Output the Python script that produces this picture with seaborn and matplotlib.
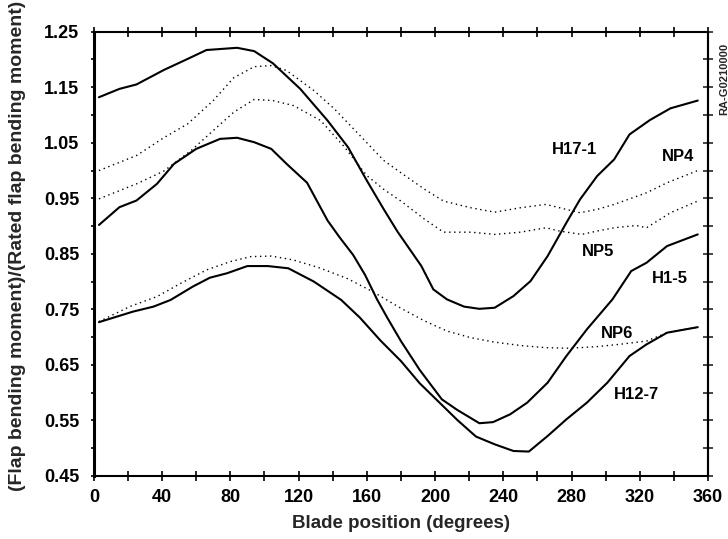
import matplotlib
matplotlib.use("Agg")
import matplotlib.pyplot as plt
import seaborn as sns
import pandas as pd

# ---------------- data ----------------
h17_x = [3, 15, 25, 41, 55, 66, 84, 94, 105, 121, 137, 149, 160, 170, 178, 192, 199, 207, 217, 226, 235, 246, 256, 266, 277, 285, 295, 305, 314, 326, 338, 354]
h17_y = [1.132, 1.147, 1.155, 1.181, 1.201, 1.217, 1.221, 1.215, 1.193, 1.147, 1.09, 1.042, 0.982, 0.93, 0.89, 0.828, 0.786, 0.768, 0.755, 0.751, 0.753, 0.774, 0.801, 0.846, 0.906, 0.948, 0.99, 1.02, 1.065, 1.091, 1.112, 1.126]

np4_x = [3, 25, 41, 55, 70, 82, 94, 104, 113, 129, 141, 156, 170, 180, 194, 205, 221, 235, 250, 265, 273, 285, 295, 305, 324, 336, 354]
np4_y = [1.00, 1.027, 1.059, 1.084, 1.126, 1.167, 1.187, 1.189, 1.18, 1.144, 1.111, 1.063, 1.018, 0.996, 0.966, 0.945, 0.933, 0.925, 0.933, 0.939, 0.933, 0.924, 0.93, 0.939, 0.96, 0.978, 1.0]

np5_x = [3, 25, 41, 57, 70, 82, 94, 105, 117, 133, 147, 160, 170, 180, 194, 205, 221, 235, 250, 265, 273, 286, 295, 305, 318, 324, 338, 354]
np5_y = [0.949, 0.976, 0.999, 1.036, 1.072, 1.105, 1.128, 1.126, 1.117, 1.09, 1.042, 0.991, 0.966, 0.945, 0.912, 0.889, 0.889, 0.885, 0.889, 0.897, 0.891, 0.885, 0.891, 0.897, 0.901, 0.897, 0.924, 0.945]

h15_x = [3, 15, 25, 37, 47, 60, 74, 84, 94, 104, 113, 125, 137, 144, 152, 159, 166, 172, 180, 191, 204, 213, 226, 234, 244, 254, 266, 277, 289, 304, 315, 324, 336, 354]
h15_y = [0.902, 0.934, 0.946, 0.976, 1.012, 1.039, 1.057, 1.059, 1.051, 1.039, 1.012, 0.978, 0.91, 0.88, 0.848, 0.812, 0.768, 0.735, 0.693, 0.641, 0.588, 0.569, 0.545, 0.547, 0.561, 0.582, 0.618, 0.666, 0.714, 0.768, 0.819, 0.834, 0.864, 0.885]

np6_x = [3, 21, 37, 51, 66, 80, 92, 104, 117, 133, 149, 164, 180, 194, 207, 221, 235, 250, 265, 279, 295, 308, 324, 336, 354]
np6_y = [0.728, 0.755, 0.773, 0.797, 0.821, 0.836, 0.845, 0.846, 0.839, 0.824, 0.805, 0.781, 0.752, 0.729, 0.711, 0.699, 0.691, 0.685, 0.681, 0.68, 0.683, 0.687, 0.693, 0.708, 0.718]

h127_x = [3, 23, 35, 45, 58, 68, 78, 90, 102, 114, 129, 145, 156, 168, 180, 191, 201, 213, 224, 235, 246, 255, 266, 277, 289, 301, 314, 324, 336, 354]
h127_y = [0.727, 0.746, 0.755, 0.767, 0.791, 0.807, 0.815, 0.828, 0.828, 0.824, 0.8, 0.767, 0.735, 0.694, 0.657, 0.617, 0.587, 0.551, 0.521, 0.507, 0.495, 0.494, 0.522, 0.552, 0.582, 0.618, 0.666, 0.687, 0.708, 0.718]

series_names = ["H17-1", "NP4", "NP5", "H1-5", "NP6", "H12-7"]
series_x = [h17_x, np4_x, np5_x, h15_x, np6_x, h127_x]
series_y = [h17_y, np4_y, np5_y, h15_y, np6_y, h127_y]
series_dotted = [False, True, True, False, True, False]

label_x = [281.6, 342.6, 295.7, 337.8, 306.5, 318.2]
label_y = [1.037, 1.025, 0.854, 0.806, 0.707, 0.596]

x_major = list(range(0, 361, 40))
x_minor = list(range(20, 361, 40))
y_major = [0.45, 0.55, 0.65, 0.75, 0.85, 0.95, 1.05, 1.15, 1.25]
y_minor = [0.50, 0.60, 0.70, 0.80, 0.90, 1.00, 1.10, 1.20]

x_label = "Blade position (degrees)"
y_label = "(Flap bending moment)/(Rated flap bending moment)"
corner_code = "RA-G0210000"

# ---------------- plot ----------------
sns.set_style("white")
plt.rcParams["font.family"] = ["Liberation Sans", "DejaVu Sans"]
plt.rcParams["font.weight"] = "bold"

fig = plt.figure(figsize=(7.28, 5.39), dpi=100)
ax = fig.add_axes([0.1289, 0.1169, 0.9725 - 0.1289, 0.9412 - 0.1169])

for name, xs, ys, dotted in zip(series_names, series_x, series_y, series_dotted):
    df = pd.DataFrame({"x": xs, "y": ys})
    sns.lineplot(data=df, x="x", y="y", ax=ax, color="black", estimator=None, sort=False,
                 linewidth=1.0 if dotted else 1.5,
                 linestyle=(0, (1, 2.6)) if dotted else "-")

for name, lx, ly in zip(series_names, label_x, label_y):
    ax.text(lx, ly, name, fontsize=12, fontweight="bold", ha="center", va="center", color="black")

ax.set_xlim(0, 360)
ax.set_ylim(0.45, 1.25)
ax.set_xticks(x_major)
ax.set_xticks(x_minor, minor=True)
ax.set_yticks(y_major)
ax.set_yticks(y_minor, minor=True)
ax.set_yticklabels([f"{v:.2f}" for v in y_major])

ax.tick_params(axis="x", which="both", direction="inout", length=7, width=1.2,
               top=True, bottom=True, labelsize=13, pad=6, colors="black")
ax.tick_params(axis="y", which="both", direction="out", length=2.5, width=1.2,
               left=True, right=False, labelsize=13, pad=8, colors="black")
for lab in ax.get_xticklabels() + ax.get_yticklabels():
    lab.set_fontweight("bold")

sec = ax.secondary_yaxis("right")
sec.set_yticks(y_major + y_minor)
sec.tick_params(axis="y", direction="inout", length=7, width=1.2, labelright=False)
sec.spines["right"].set_linewidth(1.5)

for s in ["top", "right", "bottom"]:
    ax.spines[s].set_visible(True)
    ax.spines[s].set_linewidth(1.5)
    ax.spines[s].set_color("black")
ax.spines["left"].set_linewidth(2.2)
ax.spines["left"].set_color("black")

ax.set_xlabel(x_label, fontsize=13.5, fontweight="bold", labelpad=6)
ax.set_ylabel("")
fig.text(0.0247, 1 - 246 / 539, y_label, rotation=90, ha="center", va="center",
         fontsize=14, fontweight="bold")
fig.text(724 / 728, 1 - 115 / 539, corner_code, rotation=90, ha="center", va="bottom",
         fontsize=8, fontweight="bold")

fig.savefig("out.png", dpi=100)
